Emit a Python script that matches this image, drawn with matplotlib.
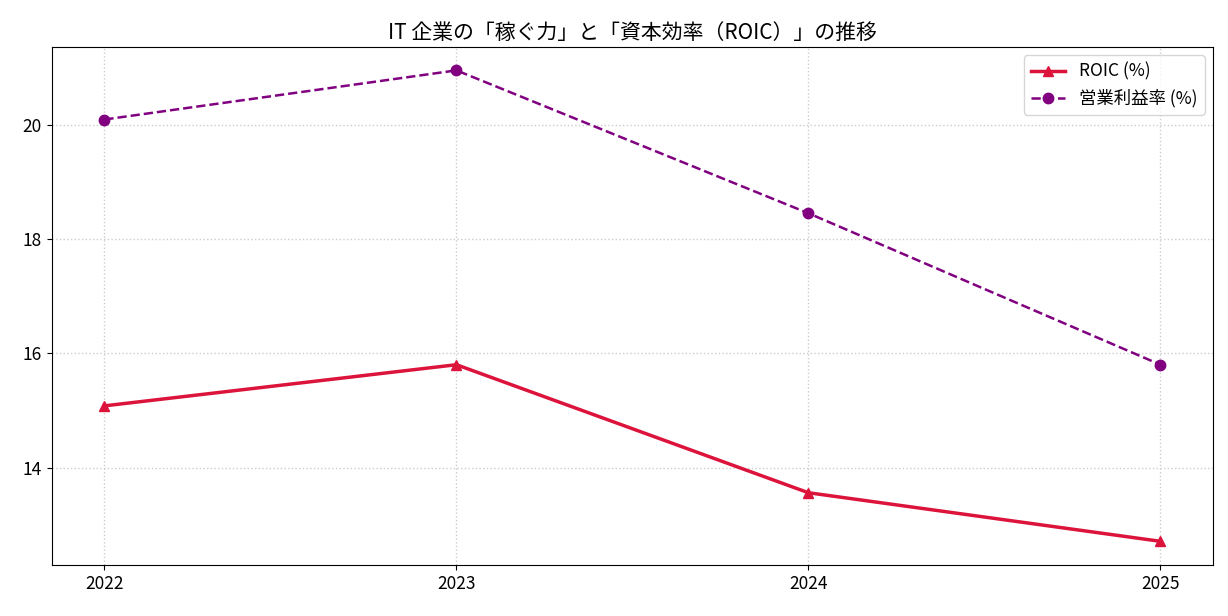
import matplotlib
matplotlib.use("Agg")
import matplotlib.pyplot as plt

plt.rcParams['font.family'] = ['Noto Sans CJK JP', 'DejaVu Sans']

years = [2022, 2023, 2024, 2025]
roic = [15.08, 15.80, 13.56, 12.71]
op_margin = [20.09, 20.95, 18.45, 15.80]

fig, ax = plt.subplots(figsize=(12.28, 6.16), dpi=100)
ax.plot(years, roic, color='crimson', marker='^', markersize=7.5, linewidth=2.5, label='ROIC (%)')
ax.plot(years, op_margin, color='purple', marker='o', markersize=7.5, linewidth=1.8,
        linestyle='--', label='営業利益率 (%)')

ax.set_xticks(years)
ax.set_xticklabels([str(y) for y in years])
ax.set_title('IT 企業の「稼ぐ力」と「資本効率（ROIC）」の推移', fontsize=15)
ax.tick_params(labelsize=12.5)
ax.grid(True, linestyle=':', color='#cccccc', linewidth=1)
ax.legend(fontsize=12.5, loc='upper right')

fig.subplots_adjust(left=0.042, right=0.988, top=0.924, bottom=0.083)
fig.savefig('out.png')
